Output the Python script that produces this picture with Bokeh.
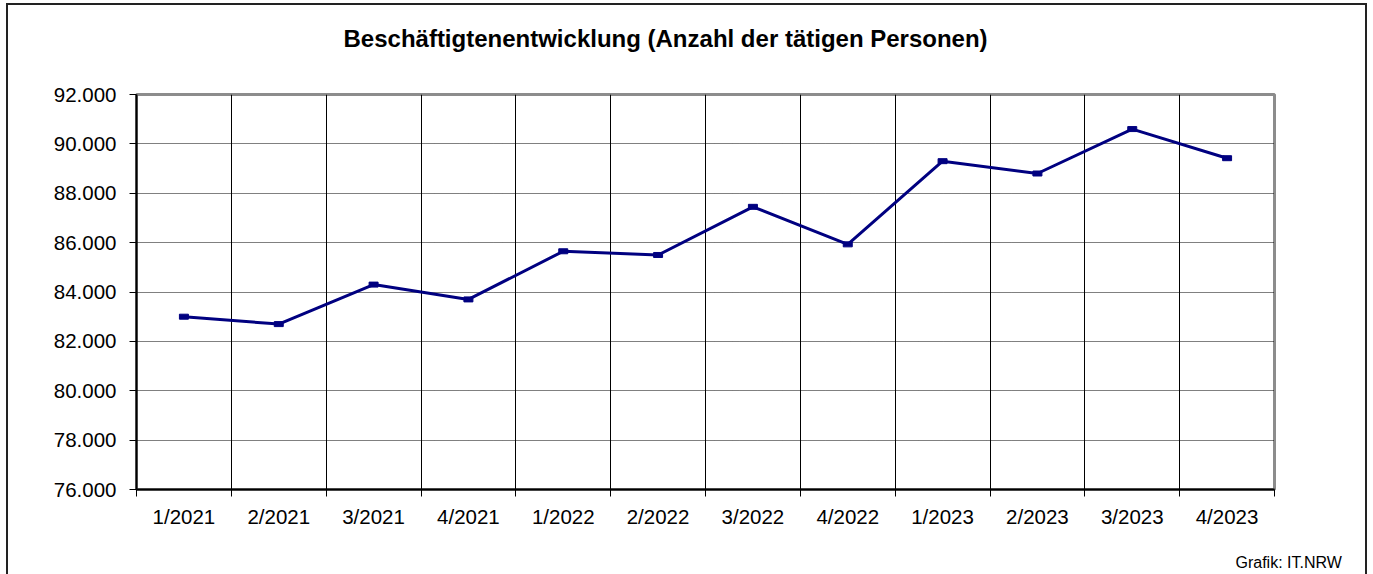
from bokeh.plotting import figure
from bokeh.models import FixedTicker, Range1d, Title
from bokeh.embed import file_html
from bokeh.resources import INLINE

# ---- data ----
quarters = ["1/2021", "2/2021", "3/2021", "4/2021",
            "1/2022", "2/2022", "3/2022", "4/2022",
            "1/2023", "2/2023", "3/2023", "4/2023"]
employees = [83000, 82700, 84300, 83700,
             85650, 85500, 87450, 85930,
             89300, 88800, 90600, 89420]
y_ticks = [76000, 78000, 80000, 82000, 84000, 86000, 88000, 90000, 92000]
y_tick_labels = ["76.000", "78.000", "80.000", "82.000", "84.000",
                 "86.000", "88.000", "90.000", "92.000"]
title_text = "Beschäftigtenentwicklung (Anzahl der tätigen Personen)"
source_text = "Grafik: IT.NRW"

n = len(quarters)
x_centers = [i + 0.5 for i in range(n)]
x_bounds = list(range(n + 1))

FONT = "Liberation Sans"
W, H = 1373, 574

border_css = ("linear-gradient(#222,#222) 6px 3px / 2px 100% no-repeat, "
              "linear-gradient(#222,#222) 1365px 3px / 2px 100% no-repeat, "
              "linear-gradient(#222,#222) 6px 3px / 1361px 2px no-repeat, "
              "white")

p = figure(width=W, height=H,
           x_range=Range1d(0, n), y_range=Range1d(y_ticks[0], y_ticks[-1]),
           output_backend="svg", toolbar_location=None,
           min_border_left=136, min_border_right=99,
           min_border_top=94, min_border_bottom=84,
           styles={"background": border_css})
p.background_fill_color = "white"
p.border_fill_color = None
p.outline_line_color = "#8c8c8c"
p.outline_line_width = 3

# title
p.title.text = title_text
p.title.text_font = FONT
p.title.text_font_size = "24px"
p.title.text_font_style = "bold"
p.title.text_color = "black"
p.title.align = "left"
p.title.offset = 207
p.title.standoff = 42

# spacer between frame and title
p.add_layout(Title(text=" ", text_font_size="1px", standoff=19), "above")

# x axis: labels at category centres, ticks at boundaries
xa = p.xaxis[0]
xa.ticker = FixedTicker(ticks=x_centers, minor_ticks=x_bounds)
xa.major_label_overrides = {c: q for c, q in zip(x_centers, quarters)}
xa.major_tick_out = 0
xa.major_tick_in = 0
xa.minor_tick_out = 7
xa.minor_tick_in = 0
xa.minor_tick_line_color = "black"
xa.minor_tick_line_width = 1
xa.axis_line_color = "black"
xa.axis_line_width = 2
xa.major_label_text_font = FONT
xa.major_label_text_font_size = "20.5px"
xa.major_label_text_color = "black"
xa.major_label_standoff = 8

ya = p.yaxis[0]
ya.ticker = FixedTicker(ticks=y_ticks)
ya.major_label_overrides = {t: l for t, l in zip(y_ticks, y_tick_labels)}
ya.major_tick_out = 7
ya.major_tick_in = 0
ya.major_tick_line_color = "black"
ya.major_tick_line_width = 1
ya.minor_tick_line_color = None
ya.axis_line_color = "black"
ya.axis_line_width = 2
ya.major_label_text_font = FONT
ya.major_label_text_font_size = "20.5px"
ya.major_label_text_color = "black"
ya.major_label_standoff = 13

# grids
p.xgrid.ticker = FixedTicker(ticks=[], minor_ticks=x_bounds[1:-1])
p.xgrid.grid_line_color = None
p.xgrid.minor_grid_line_color = "black"
p.xgrid.minor_grid_line_width = 1

p.ygrid.ticker = FixedTicker(ticks=y_ticks[1:-1])
p.ygrid.grid_line_color = "black"
p.ygrid.grid_line_width = 1
p.ygrid.grid_line_dash = "1 1"

# series
p.line(x_centers, employees, line_color="#000080", line_width=3)
p.rect(x_centers, employees, width=9, height=5,
       width_units="screen", height_units="screen",
       fill_color="#000080", line_color="#000080")

# spacer below the axis, then the source note
p.add_layout(Title(text=" ", text_font_size="1px", standoff=14), "below")
p.add_layout(Title(text=source_text, align="left", offset=1099, standoff=8,
                   text_font=FONT, text_font_size="16px",
                   text_font_style="normal", text_color="black"), "below")

open("out.html", "w").write(file_html(p, INLINE))
